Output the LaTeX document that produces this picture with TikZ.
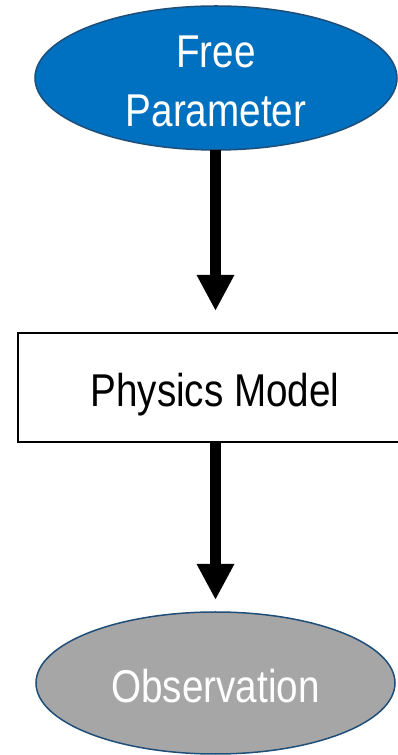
\documentclass[tikz,border=0pt]{standalone}
\usepackage{fontspec}
\setmainfont{Liberation Sans}[FakeStretch=0.84]
\usetikzlibrary{shapes.geometric,arrows.meta}
\definecolor{blueFill}{HTML}{0070C0}
\definecolor{edgeBlue}{HTML}{1F4E79}
\definecolor{grayFill}{HTML}{A6A6A6}
\tikzset{
  x=1pt,y=1pt,
  label font/.style={font=\fontsize{46}{59}\selectfont},
  ovalnode/.style={ellipse, draw=edgeBlue, line width=1.5pt, inner sep=0pt, label font, text=white, align=center},
  boxnode/.style={rectangle, draw=black, line width=2pt, fill=white, inner sep=0pt, label font, text=black},
  bigarrow/.style={line width=11pt, -{Triangle[width=35pt,length=36pt]}}
}
\begin{document}
\begin{tikzpicture}
\useasboundingbox (0,0) rectangle (398,755);
\clip (0,0) rectangle (398,755);
\fill[white] (0,0) rectangle (398,755);
\node[ovalnode, fill=blueFill, minimum width=362pt, minimum height=144pt, text height=98pt, text depth=0pt] (free) at (216,677) {Free\\Parameter};
\node[boxnode, minimum width=394pt, minimum height=109pt, text height=39pt, text depth=0pt] (model) at (215,367.5) {Physics Model};
\node[ovalnode, fill=grayFill, minimum width=359pt, minimum height=142pt, text height=40pt, text depth=0pt] (obs) at (215.5,72) {Observation};
\coordinate (tip1) at (215.5,444);
\coordinate (tip2) at (215.5,155);
\draw[bigarrow] (215.5,605) -- (tip1);
\draw[bigarrow] (model.south -| tip2) -- (tip2);
\end{tikzpicture}
\end{document}
